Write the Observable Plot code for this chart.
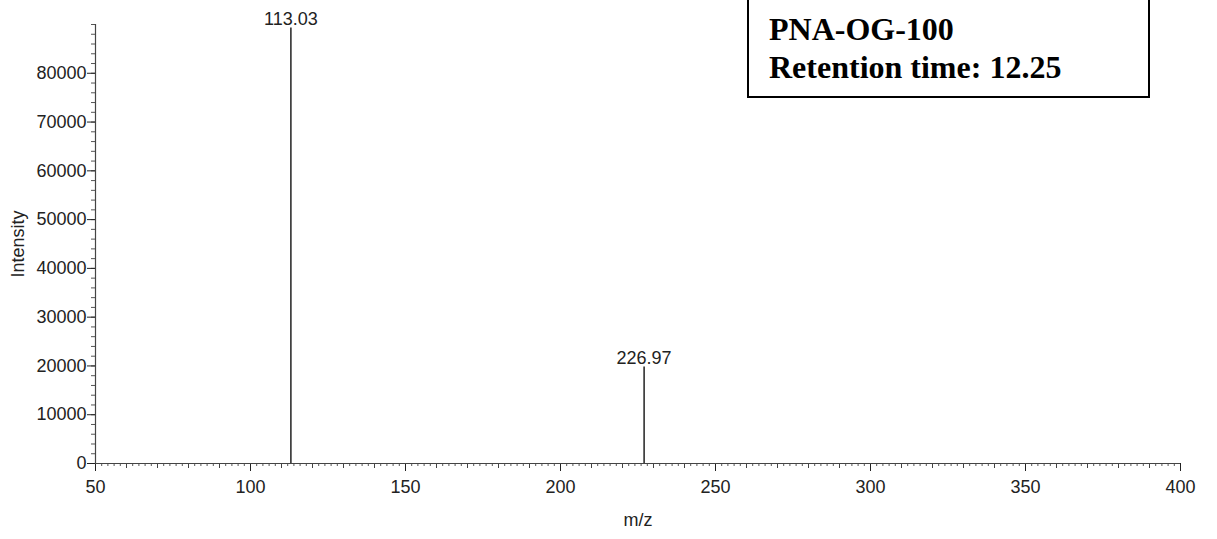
<!DOCTYPE html>
<html>
<head>
<meta charset="utf-8">
<script src="https://cdn.jsdelivr.net/npm/d3@7"></script>
<script src="https://cdn.jsdelivr.net/npm/@observablehq/plot@0.6"></script>
<style>
  html, body { margin: 0; padding: 0; background: #fff; }
  #wrap { position: relative; width: 1217px; height: 539px; overflow: hidden; }
  #box {
    position: absolute; left: 747px; top: -10px; width: 403px; height: 108px;
    border: 2.5px solid #000; box-sizing: border-box; background: #fff;
    font-family: "Liberation Serif", "Times New Roman", serif; font-weight: bold;
    font-size: 32px; line-height: 38px; color: #000; padding: 18px 0 0 20px;
  }
</style>
</head>
<body>
<div id="wrap"><div id="box">PNA-OG-100<br>Retention time: 12.25</div></div>
<script>
// Peak data (m/z, intensity)
const peakMz = [113.03, 226.97];
const peakIntensity = [89300, 19800];
const peakLabels = ["113.03", "226.97"];

// Axis ticks
const xMajorTicks = [50, 100, 150, 200, 250, 300, 350, 400];
const xMediumTicks = d3.range(50, 401, 10);
const xMinorTicks = d3.range(50, 401, 2);
const yMajorTicks = [0, 10000, 20000, 30000, 40000, 50000, 60000, 70000, 80000];
const yMinorTicks = d3.range(0, 90001, 2000);

const peaks = peakMz.map((mz, i) => ({mz, intensity: peakIntensity[i], label: peakLabels[i]}));
const ink = "#222";

const chart = Plot.plot({
  width: 1217,
  height: 539,
  marginLeft: 95,
  marginRight: 37,
  marginTop: 24,
  marginBottom: 76,
  style: {fontFamily: "'Liberation Sans', Arial, sans-serif", fontSize: "18px", color: ink, background: "transparent"},
  x: {domain: [50, 400]},
  y: {domain: [0, 90000]},
  marks: [
    Plot.axisX({ticks: xMinorTicks, tickSize: 3, text: null, label: null, stroke: "#555"}),
    Plot.axisX({ticks: xMediumTicks, tickSize: 5, text: null, label: null, stroke: "#444"}),
    Plot.axisX({ticks: xMajorTicks, tickSize: 8, tickPadding: 9, tickFormat: d => String(d), label: "m/z", labelAnchor: "center", labelArrow: "none", labelOffset: 62, fontSize: 18, stroke: ink}),
    Plot.axisY({ticks: yMinorTicks, tickSize: 4, text: null, label: null, stroke: "#555"}),
    Plot.axisY({ticks: yMajorTicks, tickSize: 8, tickPadding: 1, tickFormat: d => String(d), label: "Intensity", labelAnchor: "center", labelArrow: "none", labelOffset: 84, fontSize: 18, stroke: ink}),
    Plot.ruleX([50], {y1: 0, y2: 90000, stroke: "#444", strokeWidth: 1.2}),
    Plot.ruleY([0], {stroke: "#444", strokeWidth: 1.2}),
    Plot.ruleX(peaks, {x: "mz", y1: 0, y2: "intensity", stroke: ink, strokeWidth: 1.5}),
    Plot.text(peaks, {x: "mz", y: "intensity", text: "label", dy: -3, lineAnchor: "bottom", fontSize: 18, fill: ink})
  ]
});
document.getElementById("wrap").prepend(chart);
</script>
</body>
</html>
